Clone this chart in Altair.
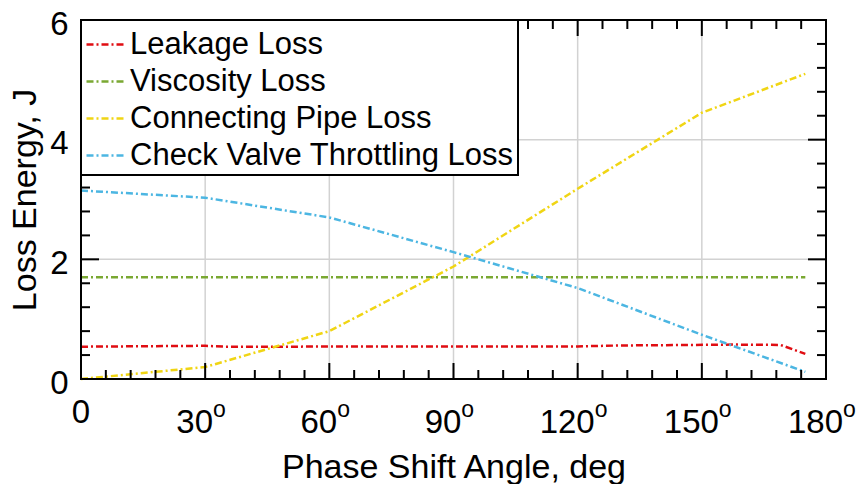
import altair as alt
import pandas as pd

# ---- data ----
series_names = ["Leakage Loss", "Viscosity Loss", "Connecting Pipe Loss", "Check Valve Throttling Loss"]
series_colors = ["#e00d12", "#7aa832", "#f0d514", "#4cb6e2"]

leak_angle = [0, 30, 35, 120, 130, 158, 169, 175]
leak_loss = [0.54, 0.555, 0.54, 0.545, 0.56, 0.575, 0.57, 0.42]

visc_angle = [0, 175]
visc_loss = [1.7, 1.7]

pipe_angle = [0, 30, 60, 90, 120, 150, 175]
pipe_loss = [0.0, 0.2, 0.8, 1.88, 3.18, 4.45, 5.1]

valve_angle = [0, 30, 60, 90, 120, 150, 175]
valve_loss = [3.15, 3.03, 2.7, 2.12, 1.52, 0.74, 0.12]

x_major = [0, 30, 60, 90, 120, 150, 180]
x_tick_text = ["0", "30", "60", "90", "120", "150", "180"]
x_grid = [30, 60, 90, 120, 150]
x_minor = [6, 12, 18, 24, 36, 42, 48, 54, 66, 72, 78, 84, 96, 102, 108, 114,
           126, 132, 138, 144, 156, 162, 168, 174]
y_major = [0, 2, 4, 6]
y_grid = [2, 4]
y_minor = [0.4, 0.8, 1.2, 1.6, 2.4, 2.8, 3.2, 3.6, 4.4, 4.8, 5.2, 5.6]

rows = []
for name, xs_, ys_ in zip(series_names,
                          [leak_angle, visc_angle, pipe_angle, valve_angle],
                          [leak_loss, visc_loss, pipe_loss, valve_loss]):
    for a, v in zip(xs_, ys_):
        rows.append({"series": name, "angle": a, "loss": v})
df = pd.DataFrame(rows)

W, H = 745, 359
FONT = "Liberation Sans"
PX_PER_DEG = W / 180.0
DIGIT_W = 0.556 * 33
O_W = 15

xs = alt.Scale(domain=[0, 180], nice=False, zero=False)
ys = alt.Scale(domain=[0, 6], nice=False, zero=False)

x_axis = alt.Axis(values=x_major, labels=False,
                  ticks=False, tickSize=0, domain=False, grid=False,
                  title="Phase Shift Angle, deg", titleFontSize=34,
                  titleFontWeight="normal", titleColor="black",
                  titleBaseline="alphabetic", titleX=W / 2, titleY=98)
y_axis = alt.Axis(values=y_major, labelFontSize=33, labelPadding=13,
                  labelColor="black", labelBaseline="middle", labelOffset=4,
                  ticks=False, tickSize=0,
                  domain=False, grid=False,
                  title="Loss Energy, J", titleFontSize=34,
                  titleFontWeight="normal", titleColor="black",
                  titleBaseline="alphabetic", titleX=-46, titleY=H / 2)

lines = alt.Chart(df).mark_line(strokeDash=[7, 3, 2, 3], strokeWidth=2.5).encode(
    x=alt.X("angle:Q", scale=xs, axis=x_axis),
    y=alt.Y("loss:Q", scale=ys, axis=y_axis),
    color=alt.Color("series:N",
                    scale=alt.Scale(domain=series_names, range=series_colors),
                    legend=alt.Legend(title=None, orient="top-left", offset=0,
                                      padding=4, labelFontSize=31,
                                      labelColor="black", labelOffset=4,
                                      rowPadding=1, symbolType="stroke",
                                      symbolSize=1444, symbolStrokeWidth=2.5,
                                      symbolDash=[7, 3, 2, 3],
                                      strokeColor="black", fillColor="white",
                                      labelLimit=600)),
)

grid_x = alt.Chart(pd.DataFrame({"angle": x_grid})).mark_rule(
    color="#d2d2d2", strokeWidth=1.5).encode(
    x=alt.X("angle:Q", scale=xs, axis=x_axis), y=alt.value(0), y2=alt.value(H))
grid_y = alt.Chart(pd.DataFrame({"loss": y_grid})).mark_rule(
    color="#d2d2d2", strokeWidth=1.5).encode(
    y=alt.Y("loss:Q", scale=ys, axis=y_axis), x=alt.value(0), x2=alt.value(W))


def xticks(vals, length):
    d = pd.DataFrame({"angle": vals})
    b = alt.Chart(d).mark_rule(color="black", strokeWidth=2).encode(
        x=alt.X("angle:Q", scale=xs, axis=x_axis), y=alt.value(H), y2=alt.value(H - length))
    t = alt.Chart(d).mark_rule(color="black", strokeWidth=2).encode(
        x=alt.X("angle:Q", scale=xs, axis=x_axis), y=alt.value(0), y2=alt.value(length))
    return [b, t]


def yticks(vals, length):
    d = pd.DataFrame({"loss": vals})
    l = alt.Chart(d).mark_rule(color="black", strokeWidth=2).encode(
        y=alt.Y("loss:Q", scale=ys, axis=y_axis), x=alt.value(0), x2=alt.value(length))
    r = alt.Chart(d).mark_rule(color="black", strokeWidth=2).encode(
        y=alt.Y("loss:Q", scale=ys, axis=y_axis), x=alt.value(W), x2=alt.value(W - length))
    return [l, r]


tick_layers = (xticks(x_major[1:-1], 16) + xticks(x_minor, 9)
               + yticks(y_major[1:-1], 18) + yticks(y_minor, 9))

# x tick labels: digits with a raised small "o" (degree) like the reference
lab_df = pd.DataFrame({"angle": x_major[1:], "lab": x_tick_text[1:]})
shift_expr = (f"datum.angle + ((length(datum.lab) * {DIGIT_W} - {O_W}) / 2 - 3)"
              f" / {PX_PER_DEG}")
digits = alt.Chart(lab_df).transform_calculate(xr=shift_expr).mark_text(
    align="right", baseline="alphabetic", fontSize=33, color="black").encode(
    x=alt.X("xr:Q", scale=xs, axis=x_axis), y=alt.value(H + 54), text="lab:N")
sup_o = alt.Chart(lab_df).transform_calculate(xr=shift_expr, o="'o'").mark_text(
    align="left", baseline="alphabetic", fontSize=23, color="black").encode(
    x=alt.X("xr:Q", scale=xs, axis=x_axis), y=alt.value(H + 38), text="o:N")
zero_lab = alt.Chart(pd.DataFrame({"angle": x_major[:1], "lab": x_tick_text[:1]})).mark_text(
    align="center", baseline="alphabetic", fontSize=33, color="black").encode(
    x=alt.X("angle:Q", scale=xs, axis=x_axis), y=alt.value(H + 44), text="lab:N")

frame = alt.Chart(pd.DataFrame({"a": [0]})).mark_rect(
    fillOpacity=0, stroke="black", strokeWidth=2).encode(
    x=alt.value(0), x2=alt.value(W), y=alt.value(0), y2=alt.value(H))

chart = alt.layer(grid_x, grid_y, lines, *tick_layers, digits, sup_o, zero_lab,
                  frame).properties(
    width=W, height=H,
    padding={"left": 81, "top": 20, "right": 39, "bottom": 105},
    autosize=alt.AutoSizeParams(type="none"),
).configure(font=FONT).configure_view(stroke=None).configure_legend(strokeWidth=2)

chart.save("out.html", embed_options={"renderer": "svg", "actions": False})
